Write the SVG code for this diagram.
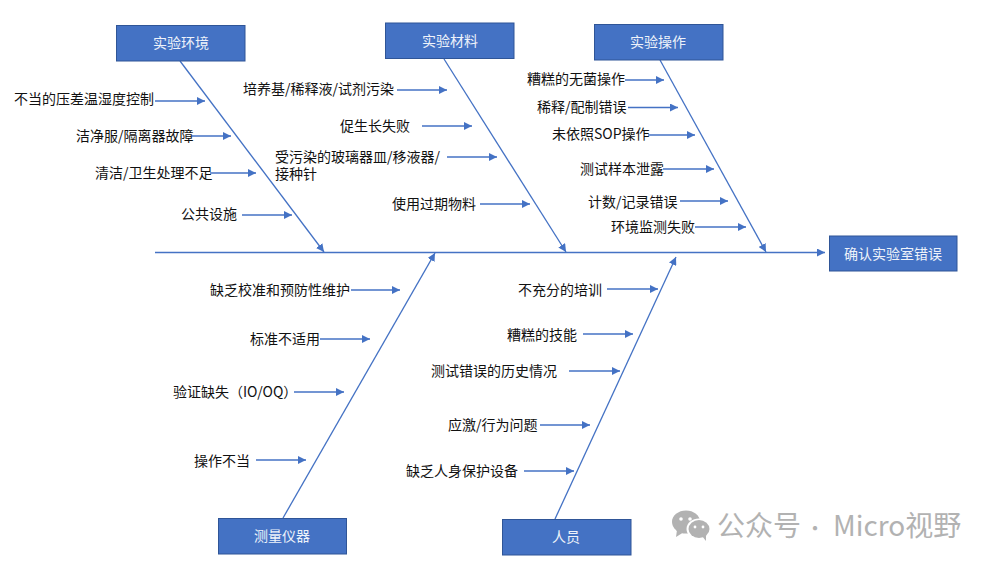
<svg xmlns="http://www.w3.org/2000/svg" width="992" height="566" viewBox="0 0 992 566">
<style>
text{font-family:"Noto Sans CJK SC","Noto Sans",sans-serif}
.b{fill:#4472c4;stroke:#2f5597;stroke-width:1}
.bt{fill:#eef2fa;font-size:14px;text-anchor:middle}
.l{fill:#111;font-size:14px}
.c line{stroke:#4472c4;stroke-width:1.3;marker-end:url(#a)}
.w{fill:#b2b2b2}
</style>
<defs>
<marker id="a" markerUnits="userSpaceOnUse" markerWidth="9" markerHeight="8" refX="8" refY="4" orient="auto"><path d="M0 0L8 4L0 8Z" fill="#4472c4"/></marker>
</defs>
<rect width="992" height="566" fill="#fff"/>
<g id="connectors" class="c">
<line x1="155" y1="252.500" x2="825" y2="252.500"/>
<line x1="180" y1="61" x2="324" y2="252"/>
<line x1="444" y1="59" x2="566" y2="252"/>
<line x1="660" y1="60" x2="766" y2="252"/>
<line x1="283" y1="518" x2="435" y2="253"/>
<line x1="555" y1="519" x2="676" y2="257"/>
<line x1="155" y1="101" x2="205" y2="101"/>
<line x1="192" y1="136" x2="231" y2="136"/>
<line x1="210" y1="173" x2="256" y2="173"/>
<line x1="242" y1="215" x2="292" y2="215"/>
<line x1="397" y1="90" x2="447" y2="90"/>
<line x1="422" y1="126" x2="472" y2="126"/>
<line x1="447" y1="157" x2="497" y2="157"/>
<line x1="480" y1="204" x2="530" y2="204"/>
<line x1="625" y1="80" x2="664" y2="80"/>
<line x1="628" y1="107.500" x2="678" y2="107.500"/>
<line x1="648" y1="135" x2="695" y2="135"/>
<line x1="663" y1="169" x2="714" y2="169"/>
<line x1="680" y1="201" x2="728" y2="201"/>
<line x1="695" y1="227" x2="746" y2="227"/>
<line x1="351" y1="290" x2="400" y2="290"/>
<line x1="320" y1="339" x2="370" y2="339"/>
<line x1="294" y1="392" x2="344" y2="392"/>
<line x1="256" y1="460" x2="306" y2="460"/>
<line x1="607" y1="289" x2="658" y2="289"/>
<line x1="583" y1="334" x2="633" y2="334"/>
<line x1="569" y1="371" x2="620" y2="371"/>
<line x1="540" y1="425" x2="590" y2="425"/>
<line x1="524" y1="471" x2="574" y2="471"/>
</g>
<g id="node-env"><rect class="b" x="116.500" y="25.500" width="128.500" height="35.500"/><text class="bt" x="181" y="48">实验环境</text></g>
<g id="node-material"><rect class="b" x="385.500" y="23" width="128.500" height="35.500"/><text class="bt" x="450" y="46">实验材料</text></g>
<g id="node-operation"><rect class="b" x="594.500" y="24.500" width="128.500" height="35.500"/><text class="bt" x="658" y="47">实验操作</text></g>
<g id="node-result"><rect class="b" x="829.500" y="236" width="127.500" height="35"/><text class="bt" x="893" y="259">确认实验室错误</text></g>
<g id="node-instrument"><rect class="b" x="218.500" y="518.500" width="128" height="35.500"/><text class="bt" x="282" y="541">测量仪器</text></g>
<g id="node-people"><rect class="b" x="502.500" y="519.500" width="128.500" height="35.500"/><text class="bt" x="566" y="542">人员</text></g>
<g id="labels">
<text class="l" x="14" y="104">不当的压差温湿度控制</text>
<text class="l" x="76" y="141">洁净服/隔离器故障</text>
<text class="l" x="95" y="178">清洁/卫生处理不足</text>
<text class="l" x="181" y="219">公共设施</text>
<text class="l" x="243" y="94">培养基/稀释液/试剂污染</text>
<text class="l" x="340" y="131">促生长失败</text>
<text class="l" x="275" y="162">受污染的玻璃器皿/移液器/<tspan x="275" dy="17">接种针</tspan></text>
<text class="l" x="392" y="209">使用过期物料</text>
<text class="l" x="527" y="84">糟糕的无菌操作</text>
<text class="l" x="537" y="112">稀释/配制错误</text>
<text class="l" x="552" y="139">未依照SOP操作</text>
<text class="l" x="580" y="174">测试样本泄露</text>
<text class="l" x="588" y="207">计数/记录错误</text>
<text class="l" x="611" y="232">环境监测失败</text>
<text class="l" x="210" y="295">缺乏校准和预防性维护</text>
<text class="l" x="250" y="344">标准不适用</text>
<text class="l" x="173" y="397">验证缺失（IO/OQ）</text>
<text class="l" x="194" y="466">操作不当</text>
<text class="l" x="518" y="295">不充分的培训</text>
<text class="l" x="507" y="340">糟糕的技能</text>
<text class="l" x="431" y="376">测试错误的历史情况</text>
<text class="l" x="448" y="430">应激/行为问题</text>
<text class="l" x="406" y="476">缺乏人身保护设备</text>
</g>
<g id="watermark">
<ellipse class="w" cx="686" cy="522" rx="14" ry="11.500"/>
<path class="w" d="M677 530L676 537L684 532Z"/>
<ellipse cx="699" cy="529" rx="12.500" ry="10.500" fill="#fff"/>
<ellipse class="w" cx="699" cy="529" rx="10.500" ry="9"/>
<path class="w" d="M702 536L706 541L706 534Z"/>
<circle cx="681" cy="519" r="1.800" fill="#fff"/><circle cx="690" cy="519" r="1.800" fill="#fff"/>
<circle cx="695" cy="527" r="1.400" fill="#fff"/><circle cx="703" cy="527" r="1.400" fill="#fff"/>
<text x="717" y="536" font-size="28" fill="#b2b2b2">公众号<tspan x="805" font-size="20">·</tspan><tspan x="833">Micro视野</tspan></text>
</g>
</svg>
